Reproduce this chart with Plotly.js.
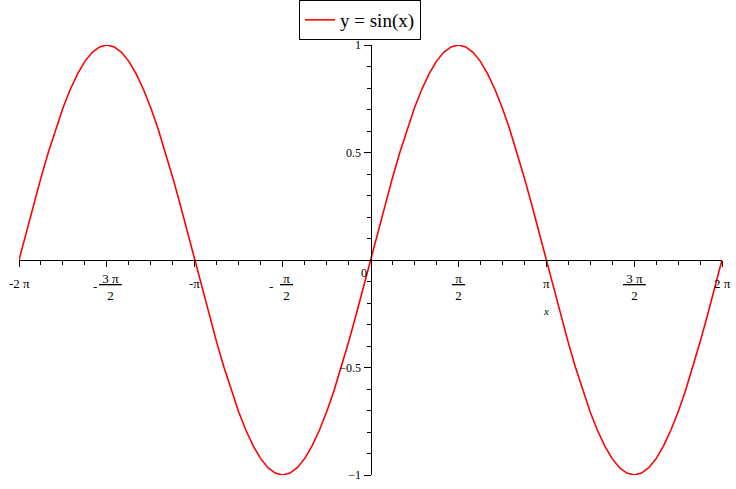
<!DOCTYPE html>
<html>
<head>
<meta charset="utf-8">
<script src="https://cdn.plot.ly/plotly-3.0.1.min.js"></script>
<style>html,body{margin:0;padding:0;background:#fff;}#chart{width:736px;height:489px;}</style>
</head>
<body>
<div id="chart"></div>
<script>
// Sample points (x in radians, step of pi/24)
const xValues = [
  -6.283, -6.152, -6.021, -5.890, -5.760, -5.629, -5.498, -5.367, -5.236, -5.105, -4.974, -4.843,
  -4.712, -4.581, -4.451, -4.320, -4.189, -4.058, -3.927, -3.796, -3.665, -3.534, -3.403, -3.272,
  -3.142, -3.011, -2.880, -2.749, -2.618, -2.487, -2.356, -2.225, -2.094, -1.963, -1.833, -1.702,
  -1.571, -1.440, -1.309, -1.178, -1.047, -0.916, -0.785, -0.654, -0.524, -0.393, -0.262, -0.131,
  0.000, 0.131, 0.262, 0.393, 0.524, 0.654, 0.785, 0.916, 1.047, 1.178, 1.309, 1.440,
  1.571, 1.702, 1.833, 1.963, 2.094, 2.225, 2.356, 2.487, 2.618, 2.749, 2.880, 3.011,
  3.142, 3.272, 3.403, 3.534, 3.665, 3.796, 3.927, 4.058, 4.189, 4.320, 4.451, 4.581,
  4.712, 4.843, 4.974, 5.105, 5.236, 5.367, 5.498, 5.629, 5.760, 5.890, 6.021, 6.152, 6.283
];
const yValues = [
  0, 0.131, 0.259, 0.383, 0.5, 0.609, 0.707, 0.793, 0.866, 0.924, 0.966, 0.991,
  1, 0.991, 0.966, 0.924, 0.866, 0.793, 0.707, 0.609, 0.5, 0.383, 0.259, 0.131,
  0, -0.131, -0.259, -0.383, -0.5, -0.609, -0.707, -0.793, -0.866, -0.924, -0.966, -0.991,
  -1, -0.991, -0.966, -0.924, -0.866, -0.793, -0.707, -0.609, -0.5, -0.383, -0.259, -0.131,
  0, 0.131, 0.259, 0.383, 0.5, 0.609, 0.707, 0.793, 0.866, 0.924, 0.966, 0.991,
  1, 0.991, 0.966, 0.924, 0.866, 0.793, 0.707, 0.609, 0.5, 0.383, 0.259, 0.131,
  0, -0.131, -0.259, -0.383, -0.5, -0.609, -0.707, -0.793, -0.866, -0.924, -0.966, -0.991,
  -1, -0.991, -0.966, -0.924, -0.866, -0.793, -0.707, -0.609, -0.5, -0.383, -0.259, -0.131, 0
];
const seriesName = "y = sin(x)";

// x tick labels (multiples of pi/2)
const xTickVals = [-6.2832, -4.7124, -3.1416, -1.5708, 1.5708, 3.1416, 4.7124, 6.2832];
const xTickSign = ["", "-", "", "-", "", "", "", ""];
const xTickNum  = ["-2 π", "3 π", "-π", "π", "π", "π", "3 π", "2 π"];
const xTickDen  = ["", "2", "", "2", "2", "", "2", ""];
const xMinorVals = [
  -5.8905, -5.4978, -5.1051, -4.3197, -3.9270, -3.5343, -2.7489, -2.3562, -1.9635,
  -1.1781, -0.7854, -0.3927, 0.3927, 0.7854, 1.1781, 1.9635, 2.3562, 2.7489,
  3.5343, 3.9270, 4.3197, 5.1051, 5.4978, 5.8905
];
const yTickVals = [-1, -0.5, 0.5, 1];
const yMinorVals = [-0.9, -0.8, -0.7, -0.6, -0.4, -0.3, -0.2, -0.1, 0.1, 0.2, 0.3, 0.4, 0.6, 0.7, 0.8, 0.9];
const xAxisLabel = "x";
const originLabel = "0";

const serif = "Liberation Serif, Times New Roman, serif";
const tickFont = {family: serif, size: 12, color: "#000"};
const xTickFont = {family: serif, size: 13, color: "#000"};

const annotations = [];
xTickVals.forEach((v, i) => {
  const frac = xTickDen[i] !== "";
  if (!frac) {
    annotations.push({x: v, y: 0, xref: "x", yref: "y", text: xTickNum[i], showarrow: false,
      xanchor: "center", yanchor: "middle", yshift: -23, font: xTickFont});
  } else {
    const neg = xTickSign[i] !== "";
    annotations.push({x: v, y: 0, xref: "x", yref: "y",
      text: "<u>\u00A0" + xTickNum[i] + "\u00A0</u><br>" + xTickDen[i], showarrow: false,
      xanchor: "center", yanchor: "middle", yshift: -27, xshift: neg ? 4 : 0, font: xTickFont});
    if (neg) {
      annotations.push({x: v, y: 0, xref: "x", yref: "y", text: xTickSign[i], showarrow: false,
        xanchor: "center", yanchor: "middle", yshift: -26, xshift: -12, font: xTickFont});
    }
  }
});
annotations.push({x: 0, y: 0, xref: "x", yref: "y", text: originLabel, showarrow: false,
  xanchor: "center", yanchor: "middle", xshift: -7, yshift: -13, font: tickFont});
annotations.push({x: 3.1416, y: 0, xref: "x", yref: "y", text: "<i>" + xAxisLabel + "</i>", showarrow: false,
  xanchor: "center", yanchor: "middle", yshift: -51, font: {family: serif, size: 11, color: "#000"}});

const trace = {
  x: xValues, y: yValues, type: "scatter", mode: "lines", name: seriesName,
  line: {color: "#ff0000", width: 1.6},
  showlegend: true, hoverinfo: "skip"
};

const layout = {
  width: 736, height: 489,
  margin: {l: 19, r: 14, t: 45, b: 14, pad: 0, autoexpand: false},
  paper_bgcolor: "#fff", plot_bgcolor: "#fff",
  showlegend: true,
  legend: {
    xref: "container", yref: "container", x: 299 / 736, y: 1,
    xanchor: "left", yanchor: "top",
    bgcolor: "#fff", bordercolor: "#000", borderwidth: 1,
    font: {family: serif, size: 19, color: "#000"}
  },
  xaxis: {
    range: [-6.2832, 6.2832], anchor: "free", position: 0.5, side: "bottom", automargin: false,
    showline: true, linecolor: "#000", linewidth: 1, zeroline: false, showgrid: false,
    tickmode: "array", tickvals: xTickVals, showticklabels: false,
    ticks: "outside", ticklen: 6, tickwidth: 1, tickcolor: "#000",
    minor: {tickmode: "array", tickvals: xMinorVals, ticks: "outside", ticklen: 4, tickwidth: 1, tickcolor: "#000", showgrid: false}
  },
  yaxis: {
    range: [-1, 1], anchor: "free", position: 0.5, side: "left", automargin: false,
    showline: true, linecolor: "#000", linewidth: 1, zeroline: false, showgrid: false,
    tickmode: "array", tickvals: yTickVals, showticklabels: true,
    ticks: "outside", ticklen: 7, tickwidth: 1, tickcolor: "#000",
    tickfont: tickFont,
    minor: {tickmode: "array", tickvals: yMinorVals, ticks: "outside", ticklen: 4, tickwidth: 1, tickcolor: "#000", showgrid: false}
  },
  annotations: annotations
};

Plotly.newPlot("chart", [trace], layout, {displayModeBar: false, staticPlot: true});
</script>
</body>
</html>
